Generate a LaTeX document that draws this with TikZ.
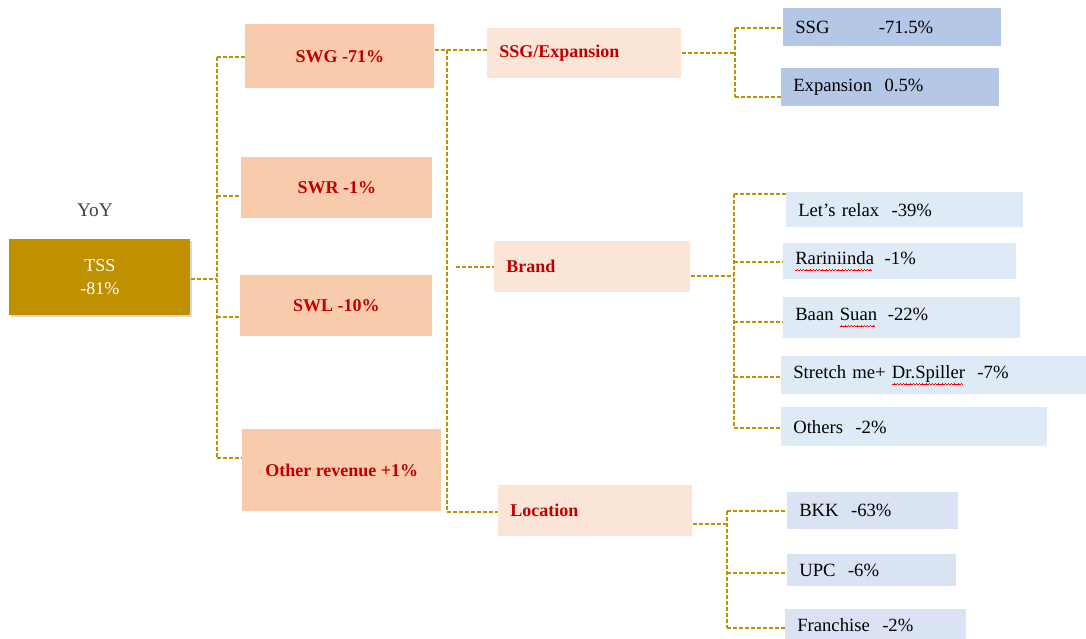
\documentclass[tikz,border=0pt]{standalone}
\usepackage{fontspec}
\setmainfont{Liberation Serif}
\usetikzlibrary{shadows}
\newsavebox\spbox
\newcommand\wavepiece{\rule[-4.6pt]{0.6pt}{0.5pt}\rule[-4.2pt]{0.6pt}{0.5pt}\rule[-3.8pt]{0.6pt}{0.5pt}\rule[-4.2pt]{0.6pt}{0.5pt}}
\newcommand\spellerr[1]{\sbox\spbox{#1}\leavevmode\rlap{\textcolor{red}{\hbox to \wd\spbox{\leaders\hbox{\wavepiece}\hfill}}}\usebox\spbox}
\definecolor{tssgold}{RGB}{191,144,0}
\definecolor{lvlone}{RGB}{248,203,173}
\definecolor{lvltwo}{RGB}{251,229,214}
\definecolor{ssgblue}{RGB}{180,199,231}
\definecolor{brandblue}{RGB}{222,235,247}
\definecolor{locblue}{RGB}{218,227,243}
\definecolor{redtxt}{RGB}{192,0,0}
\definecolor{linegold}{RGB}{191,144,0}
\definecolor{yoygray}{RGB}{64,64,64}
\tikzset{
  box/.style={rectangle, anchor=north west, inner ysep=0pt},
  cbox/.style={box, inner xsep=0pt, align=center},
  lbox/.style={box, inner xsep=9pt, align=left},
  redt/.style={text=redtxt, font=\bfseries\fontsize{13.5}{17}\selectfont},
  blkt/.style={text=black, font=\fontsize{14}{17}\selectfont},
  conn/.style={draw=linegold, line width=0.9pt, dash pattern=on 3pt off 1.5pt}
}
\begin{document}
\begin{tikzpicture}[x=0.75pt,y=-0.75pt]
\useasboundingbox (0,0) rectangle (1086,639);

% root
\node[font=\fontsize{14.5}{17}\selectfont, text=yoygray] (yoy) at (95,210) {YoY};
\node[cbox, fill=tssgold, text=white, font=\fontsize{13.5}{17}\selectfont,
      minimum width=135.75pt, minimum height=57pt,
      drop shadow={opacity=0.3, shadow xshift=1.5pt, shadow yshift=-1.5pt}]
      (tss) at (9,239) {\raisebox{-3pt}{TSS}\\\raisebox{-3pt}{-81\%}};

% level 1
\node[cbox, redt, fill=lvlone, minimum width=141.75pt, minimum height=48pt] (swg) at (245,24) {SWG -71\%};
\node[cbox, redt, fill=lvlone, minimum width=143.25pt, minimum height=45.75pt] (swr) at (241,157) {SWR -1\%};
\node[cbox, redt, fill=lvlone, minimum width=144pt, minimum height=45.75pt] (swl) at (240,275) {SWL -10\%};
\node[cbox, redt, fill=lvlone, minimum width=149.25pt, minimum height=61.5pt] (orev) at (242,429) {Other revenue +1\%};

% level 2
\node[lbox, redt, fill=lvltwo, text width=127.5pt, minimum height=37.5pt] (sse) at (487,28) {SSG/Expansion};
\node[lbox, redt, fill=lvltwo, text width=129pt, minimum height=38.25pt] (brand) at (494,241) {Brand};
\node[lbox, redt, fill=lvltwo, text width=127.5pt, minimum height=38.25pt] (loc) at (498,485) {Location};

% level 3
\node[lbox, blkt, fill=ssgblue, text width=145.5pt, minimum height=28.5pt] (ssg) at (783,8) {SSG\hspace{37pt}-71.5\%};
\node[lbox, blkt, fill=ssgblue, text width=145.5pt, minimum height=28.5pt] (exp) at (781,68) {Expansion\ \ 0.5\%};

\node[lbox, blkt, fill=brandblue, text width=159.75pt, minimum height=26.25pt] (lets) at (786,192) {Let’s relax\ \ -39\%};
\node[lbox, blkt, fill=brandblue, text width=156.75pt, minimum height=27pt] (rar) at (783,243) {\spellerr{Rariniinda}\hspace{8pt}-1\%};
\node[lbox, blkt, fill=brandblue, text width=159.75pt, minimum height=30.75pt] (baan) at (783,297) {Baan \spellerr{Suan}\hspace{8pt}-22\%};
\node[lbox, blkt, fill=brandblue, text width=210.75pt, minimum height=28.5pt] (str) at (781,356) {Stretch me+ \spellerr{Dr.Spiller}\ \ -7\%};
\node[lbox, blkt, fill=brandblue, text width=181.5pt, minimum height=29.25pt] (oth) at (781,407) {Others\ \ -2\%};

\node[lbox, blkt, fill=locblue, text width=110.25pt, minimum height=27.75pt] (bkk) at (787,492) {BKK\ \ -63\%};
\node[lbox, blkt, fill=locblue, text width=108.75pt, minimum height=24pt] (upc) at (787,554) {UPC\ \ -6\%};
\node[lbox, blkt, fill=locblue, text width=117.75pt, minimum height=24pt] (fra) at (785,609) {Franchise\ \ -2\%};

% connectors: root -> level 1
\coordinate (t0) at (217,279);
\coordinate (t1) at (217,57);
\coordinate (t2) at (217,196);
\coordinate (t3) at (217,317);
\coordinate (t4) at (217,458);
\draw[conn] (t0 -| tss.east) -- (t0);
\draw[conn] (t1) -- (t4);
\foreach \c/\n in {t1/swg, t2/swr, t3/swl, t4/orev} \draw[conn] (\c) -- (\c -| \n.west);

% SWG -> level 2
\coordinate (u1) at (447,50);
\coordinate (u2) at (456,267);
\coordinate (u3) at (447,512);
\draw[conn] (u1 -| swg.east) -- (u1 -| sse.west);
\draw[conn] (u1) -- (u3);
\draw[conn] (u2) -- (u2 -| brand.west);
\draw[conn] (u3) -- (u3 -| loc.west);

% SSG/Expansion -> leaves
\coordinate (v0) at (735,53);
\coordinate (v1) at (735,28);
\coordinate (v2) at (735,97);
\draw[conn] (v0 -| sse.east) -- (v0);
\draw[conn] (v1) -- (v2);
\draw[conn] (v1) -- (v1 -| ssg.west);
\draw[conn] (v2) -- (v2 -| exp.west);

% Brand -> leaves
\coordinate (w0) at (734,276);
\coordinate (w1) at (734,194);
\coordinate (w2) at (734,262);
\coordinate (w3) at (734,322);
\coordinate (w4) at (734,377);
\coordinate (w5) at (734,428);
\draw[conn] (w0 -| brand.east) -- (w0);
\draw[conn] (w1) -- (w5);
\foreach \c/\n in {w1/lets, w2/rar, w3/baan, w4/str, w5/oth} \draw[conn] (\c) -- (\c -| \n.west);

% Location -> leaves
\coordinate (z0) at (727,524);
\coordinate (z1) at (727,511);
\coordinate (z2) at (727,573);
\coordinate (z3) at (727,628);
\draw[conn] (z0 -| loc.east) -- (z0);
\draw[conn] (z1) -- (z3);
\foreach \c/\n in {z1/bkk, z2/upc, z3/fra} \draw[conn] (\c) -- (\c -| \n.west);
\end{tikzpicture}
\end{document}
